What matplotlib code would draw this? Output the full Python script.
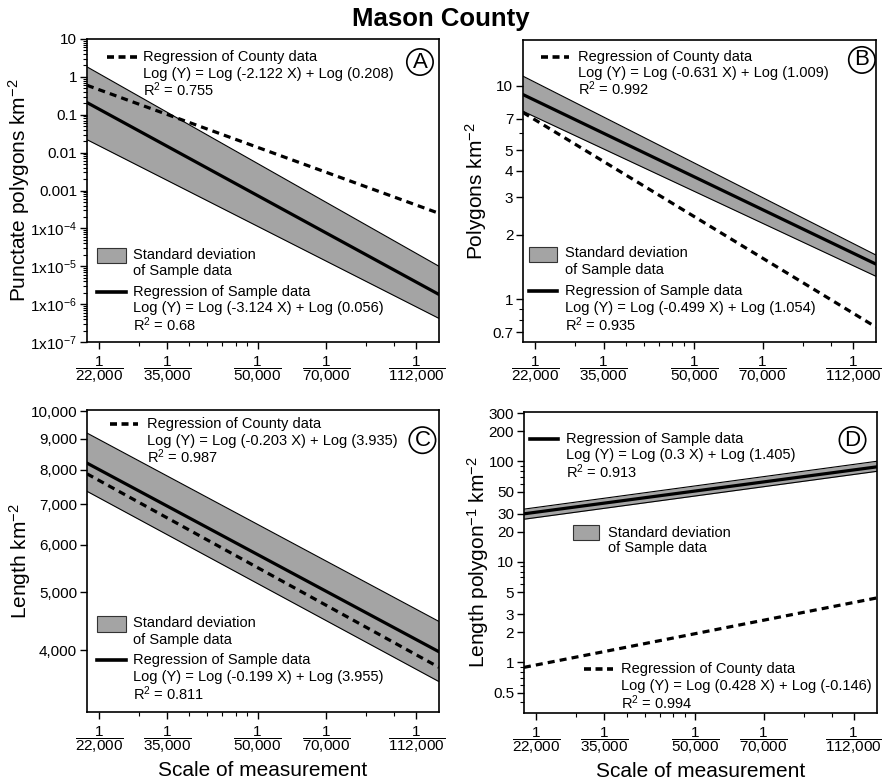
import matplotlib
matplotlib.use("Agg")
import matplotlib.pyplot as plt
import matplotlib.patches as mpatches
from matplotlib.ticker import FixedLocator, FixedFormatter, NullFormatter

plt.rcParams["font.family"] = ["Liberation Sans", "DejaVu Sans"]
plt.rcParams["mathtext.fontset"] = "custom"
plt.rcParams["mathtext.rm"] = "Liberation Sans"
plt.rcParams["mathtext.it"] = "Liberation Sans:italic"
plt.rcParams["mathtext.bf"] = "Liberation Sans:bold"
plt.rcParams["axes.unicode_minus"] = False

# ---------------------------------------------------------------
# DATA
# ---------------------------------------------------------------
x_ends = [1.77, 63.0]          # measurement-scale axis (log units of X)
x_major = [2, 4, 10, 20, 50]
x_minor = [3, 5, 6, 7, 8, 9, 30, 40]
x_labels = ["22{,}000", "35{,}000", "50{,}000", "70{,}000", "112{,}000"]

# A : punctate polygons km-2
a_county = [0.60, 2.5e-4]
a_sample = [0.21, 1.8e-6]
a_sd_hi = [1.84, 1.0e-5]
a_sd_lo = [0.022, 4.2e-7]
a_yticks = [1e-7, 1e-6, 1e-5, 1e-4, 1e-3, 1e-2, 1e-1, 1, 10]
a_ylabels = ["1x10$^{-7}$", "1x10$^{-6}$", "1x10$^{-5}$", "1x10$^{-4}$",
             "0.001", "0.01", "0.1", "1", "10"]

# B : polygons km-2
b_county = [7.5, 0.74]
b_sample = [9.1, 1.46]
b_sd_hi = [11.1, 1.61]
b_sd_lo = [7.6, 1.28]
b_yticks = [0.7, 1, 2, 3, 4, 5, 7, 10]
b_ylabels = ["0.7", "1", "2", "3", "4", "5", "7", "10"]
b_yminor = [0.8, 0.9, 6]

# C : length km-2
c_county = [7870, 3750]
c_sample = [8200, 3980]
c_sd_hi = [9200, 4470]
c_sd_lo = [7360, 3550]
c_yticks = [4000, 5000, 6000, 7000, 8000, 9000, 10000]
c_ylabels = ["4,000", "5,000", "6,000", "7,000", "8,000", "9,000", "10,000"]

# D : length polygon-1 km-2
d_county = [0.89, 4.37]
d_sample = [30, 88]
d_sd_hi = [33.4, 100]
d_sd_lo = [26.5, 79.4]
d_yticks = [0.5, 1, 2, 3, 5, 10, 20, 30, 50, 100, 200, 300]
d_ylabels = ["0.5", "1", "2", "3", "5", "10", "20", "30", "50", "100", "200", "300"]
d_yminor = [0.4, 0.6, 0.7, 0.8, 0.9, 6, 7, 8, 9, 60, 70, 80, 90]

eq_a = ["Log (Y) = Log (-2.122 X) + Log (0.208)", "R$^2$ = 0.755",
        "Log (Y) = Log (-3.124 X) + Log (0.056)", "R$^2$ = 0.68"]
eq_b = ["Log (Y) = Log (-0.631 X) + Log (1.009)", "R$^2$ = 0.992",
        "Log (Y) = Log (-0.499 X) + Log (1.054)", "R$^2$ = 0.935"]
eq_c = ["Log (Y) = Log (-0.203 X) + Log (3.935)", "R$^2$ = 0.987",
        "Log (Y) = Log (-0.199 X) + Log (3.955)", "R$^2$ = 0.811"]
eq_d = ["Log (Y) = Log (0.428 X) + Log (-0.146)", "R$^2$ = 0.994",
        "Log (Y) = Log (0.3 X) + Log (1.405)", "R$^2$ = 0.913"]

BAND = "#a4a4a4"
DASH = (0, (2.2, 1.6))
HANDLE_DASH = (0, (1.94, 1.25))
LEG_FS = 10.5

fig = plt.figure(figsize=(8.82, 7.83), dpi=100)
fig.text(0.5, 1 - 19 / 783, "Mason County", ha="center", va="center",
         fontsize=18.5, fontweight="bold")

ax_a = fig.add_axes([0.0986, 0.5632, 0.3991, 0.387])
ax_b = fig.add_axes([0.593, 0.5632, 0.4002, 0.3857])
ax_c = fig.add_axes([0.0986, 0.0907, 0.3991, 0.3857])
ax_d = fig.add_axes([0.594, 0.0894, 0.4002, 0.3844])


# ---------------------------------------------------------------
# HELPERS
# ---------------------------------------------------------------
def draw_panel(ax, county, sample, hi, lo):
    ax.fill_between(x_ends, lo, hi, color=BAND, lw=0, zorder=1)
    ax.plot(x_ends, hi, color="black", lw=0.8, zorder=2)
    ax.plot(x_ends, lo, color="black", lw=0.8, zorder=2)
    ax.plot(x_ends, sample, color="black", lw=2.3, zorder=3)
    ax.plot(x_ends, county, color="black", lw=2.3, ls=DASH,
            dash_capstyle="butt", zorder=4)


def style_axes(ax, ylim, yticks, ylabels, yminor=None):
    ax.set_xscale("log")
    ax.set_yscale("log")
    ax.set_xlim(x_ends)
    ax.set_ylim(ylim)
    ax.xaxis.set_major_locator(FixedLocator(x_major))
    ax.xaxis.set_major_formatter(FixedFormatter(
        [r"$\dfrac{1}{%s}$" % s for s in x_labels]))
    ax.xaxis.set_minor_locator(FixedLocator(x_minor))
    ax.xaxis.set_minor_formatter(NullFormatter())
    ax.yaxis.set_major_locator(FixedLocator(yticks))
    ax.yaxis.set_major_formatter(FixedFormatter(ylabels))
    if yminor is None:
        ax.yaxis.set_minor_locator(FixedLocator([]))
    elif yminor != "log":
        ax.yaxis.set_minor_locator(FixedLocator(yminor))
    ax.yaxis.set_minor_formatter(NullFormatter())
    ax.tick_params(which="major", direction="out", length=5, width=1,
                   labelsize=11, pad=2)
    ax.tick_params(axis="x", which="major", pad=4)
    ax.tick_params(which="minor", direction="out", length=3, width=0.8)
    for s in ax.spines.values():
        s.set_linewidth(1.2)


def set_ylabel(ax, text, xpos):
    ax.set_ylabel(text, fontsize=15)
    ax.yaxis.set_label_coords(xpos, 0.5)
    ax.yaxis.label.set_va("center")


def set_xlabel(ax):
    ax.set_xlabel("Scale of measurement", fontsize=15)
    ax.xaxis.set_label_coords(0.5, -0.195)
    ax.xaxis.label.set_va("center")


def circle_letter(ax, x, y, letter):
    ax.text(x, y, letter, transform=ax.transAxes, ha="center", va="center",
            fontsize=16, zorder=6,
            bbox=dict(boxstyle="circle,pad=0.12", fc="white", ec="black", lw=1.2))


def handle_line(ax, x0, x1, y, dashed):
    ax.plot([x0, x1], [y, y], transform=ax.transAxes, color="black", lw=2.6,
            ls=HANDLE_DASH if dashed else "-", dash_capstyle="butt", zorder=6,
            clip_on=False)


def handle_box(ax, x0, x1, y0, y1):
    ax.add_patch(mpatches.Rectangle((x0, y1), x1 - x0, y0 - y1,
                                    transform=ax.transAxes, fc=BAND,
                                    ec="#333333", lw=0.8, zorder=6))


def lines_of_text(ax, x, ys, texts):
    for y, t in zip(ys, texts):
        ax.text(x, y, t, transform=ax.transAxes, ha="left", va="center",
                fontsize=LEG_FS, zorder=6)


# ---------------------------------------------------------------
# PANEL A
# ---------------------------------------------------------------
draw_panel(ax_a, a_county, a_sample, a_sd_hi, a_sd_lo)
style_axes(ax_a, (1e-7, 10), a_yticks, a_ylabels, "log")
set_ylabel(ax_a, "Punctate polygons km$^{-2}$", -0.194)
handle_line(ax_a, 0.057, 0.142, 0.941, True)
lines_of_text(ax_a, 0.159, [0.941, 0.884, 0.832],
              ["Regression of County data"] + eq_a[:2])
handle_box(ax_a, 0.028, 0.111, 0.310, 0.261)
lines_of_text(ax_a, 0.131, [0.287, 0.234], ["Standard deviation", "of Sample data"])
handle_line(ax_a, 0.028, 0.111, 0.165, False)
lines_of_text(ax_a, 0.131, [0.165, 0.113, 0.058],
              ["Regression of Sample data"] + eq_a[2:])
circle_letter(ax_a, 0.946, 0.924, "A")

# ---------------------------------------------------------------
# PANEL B
# ---------------------------------------------------------------
draw_panel(ax_b, b_county, b_sample, b_sd_hi, b_sd_lo)
style_axes(ax_b, (0.63, 16.4), b_yticks, b_ylabels, b_yminor)
set_ylabel(ax_b, "Polygons km$^{-2}$", -0.133)
handle_line(ax_b, 0.051, 0.130, 0.944, True)
lines_of_text(ax_b, 0.156, [0.944, 0.890, 0.838],
              ["Regression of County data"] + eq_b[:2])
handle_box(ax_b, 0.017, 0.096, 0.315, 0.265)
lines_of_text(ax_b, 0.119, [0.295, 0.238], ["Standard deviation", "of Sample data"])
handle_line(ax_b, 0.017, 0.096, 0.168, False)
lines_of_text(ax_b, 0.119, [0.168, 0.114, 0.057],
              ["Regression of Sample data"] + eq_b[2:])
circle_letter(ax_b, 0.96, 0.934, "B")

# ---------------------------------------------------------------
# PANEL C
# ---------------------------------------------------------------
draw_panel(ax_c, c_county, c_sample, c_sd_hi, c_sd_lo)
style_axes(ax_c, (3160, 10050), c_yticks, c_ylabels, None)
set_ylabel(ax_c, "Length km$^{-2}$", -0.191)
set_xlabel(ax_c)
handle_line(ax_c, 0.065, 0.145, 0.952, True)
lines_of_text(ax_c, 0.170, [0.952, 0.896, 0.844],
              ["Regression of County data"] + eq_c[:2])
handle_box(ax_c, 0.028, 0.111, 0.318, 0.265)
lines_of_text(ax_c, 0.131, [0.295, 0.238], ["Standard deviation", "of Sample data"])
handle_line(ax_c, 0.028, 0.111, 0.171, False)
lines_of_text(ax_c, 0.131, [0.171, 0.117, 0.060],
              ["Regression of Sample data"] + eq_c[2:])
circle_letter(ax_c, 0.953, 0.90, "C")

# ---------------------------------------------------------------
# PANEL D
# ---------------------------------------------------------------
draw_panel(ax_d, d_county, d_sample, d_sd_hi, d_sd_lo)
style_axes(ax_d, (0.313, 309), d_yticks, d_ylabels, d_yminor)
set_ylabel(ax_d, "Length polygon$^{-1}$ km$^{-2}$", -0.13)
set_xlabel(ax_d)
handle_line(ax_d, 0.017, 0.096, 0.912, False)
lines_of_text(ax_d, 0.119, [0.912, 0.856, 0.802],
              ["Regression of Sample data"] + eq_d[2:])
handle_box(ax_d, 0.139, 0.212, 0.625, 0.575)
lines_of_text(ax_d, 0.238, [0.598, 0.548], ["Standard deviation", "of Sample data"])
handle_line(ax_d, 0.170, 0.252, 0.146, True)
lines_of_text(ax_d, 0.275, [0.146, 0.090, 0.035],
              ["Regression of County data"] + eq_d[:2])
circle_letter(ax_d, 0.931, 0.907, "D")

fig.savefig("out.png", dpi=100)
